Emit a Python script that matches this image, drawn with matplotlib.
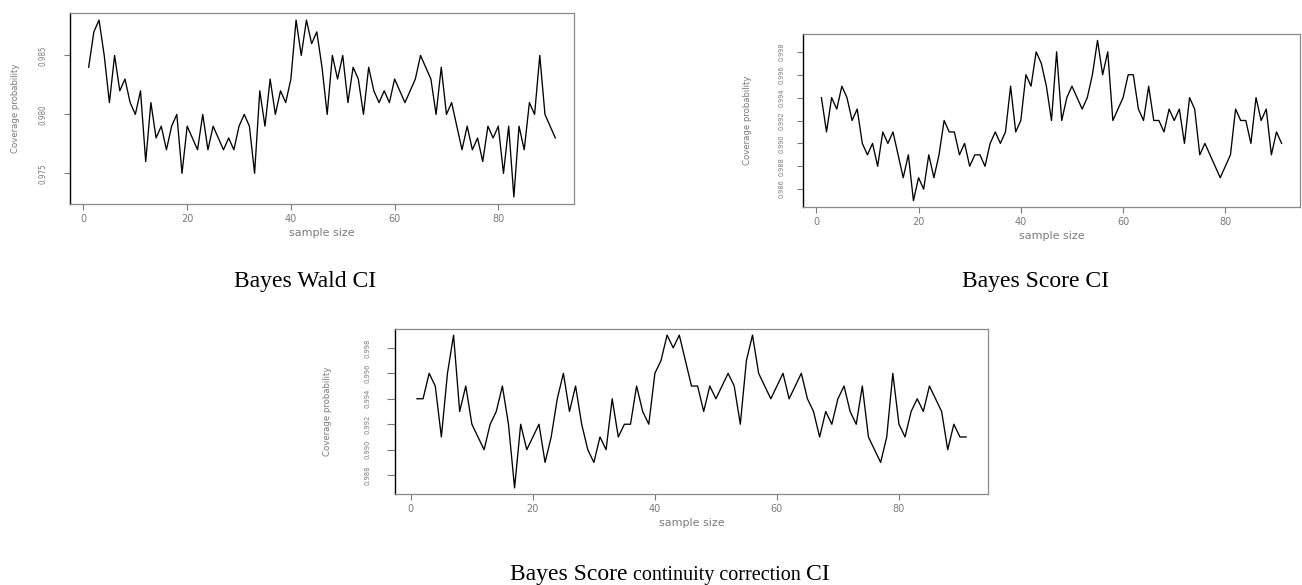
import matplotlib
matplotlib.use('Agg')
import matplotlib.pyplot as plt

# Coverage probabilities (sample size 1..91)
sample_size = list(range(1, 92))

wald_ci = [0.984, 0.987, 0.988, 0.985, 0.981, 0.985, 0.982, 0.983, 0.981, 0.980,
           0.982, 0.976, 0.981, 0.978, 0.979, 0.977, 0.979, 0.980, 0.975, 0.979,
           0.978, 0.977, 0.980, 0.977, 0.979, 0.978, 0.977, 0.978, 0.977, 0.979,
           0.980, 0.979, 0.975, 0.982, 0.979, 0.983, 0.980, 0.982, 0.981, 0.983,
           0.988, 0.985, 0.988, 0.986, 0.987, 0.984, 0.980, 0.985, 0.983, 0.985,
           0.981, 0.984, 0.983, 0.980, 0.984, 0.982, 0.981, 0.982, 0.981, 0.983,
           0.982, 0.981, 0.982, 0.983, 0.985, 0.984, 0.983, 0.980, 0.984, 0.980,
           0.981, 0.979, 0.977, 0.979, 0.977, 0.978, 0.976, 0.979, 0.978, 0.979,
           0.975, 0.979, 0.973, 0.979, 0.977, 0.981, 0.980, 0.985, 0.980, 0.979,
           0.978]

score_ci = [0.994, 0.991, 0.994, 0.993, 0.995, 0.994, 0.992, 0.993, 0.990, 0.989,
            0.990, 0.988, 0.991, 0.990, 0.991, 0.989, 0.987, 0.989, 0.985, 0.987,
            0.986, 0.989, 0.987, 0.989, 0.992, 0.991, 0.991, 0.989, 0.990, 0.988,
            0.989, 0.989, 0.988, 0.990, 0.991, 0.990, 0.991, 0.995, 0.991, 0.992,
            0.996, 0.995, 0.998, 0.997, 0.995, 0.992, 0.998, 0.992, 0.994, 0.995,
            0.994, 0.993, 0.994, 0.996, 0.999, 0.996, 0.998, 0.992, 0.993, 0.994,
            0.996, 0.996, 0.993, 0.992, 0.995, 0.992, 0.992, 0.991, 0.993, 0.992,
            0.993, 0.990, 0.994, 0.993, 0.989, 0.990, 0.989, 0.988, 0.987, 0.988,
            0.989, 0.993, 0.992, 0.992, 0.990, 0.994, 0.992, 0.993, 0.989, 0.991,
            0.990]

score_cc_ci = [0.994, 0.994, 0.996, 0.995, 0.991, 0.996, 0.999, 0.993, 0.995, 0.992,
               0.991, 0.990, 0.992, 0.993, 0.995, 0.992, 0.987, 0.992, 0.990, 0.991,
               0.992, 0.989, 0.991, 0.994, 0.996, 0.993, 0.995, 0.992, 0.990, 0.989,
               0.991, 0.990, 0.994, 0.991, 0.992, 0.992, 0.995, 0.993, 0.992, 0.996,
               0.997, 0.999, 0.998, 0.999, 0.997, 0.995, 0.995, 0.993, 0.995, 0.994,
               0.995, 0.996, 0.995, 0.992, 0.997, 0.999, 0.996, 0.995, 0.994, 0.995,
               0.996, 0.994, 0.995, 0.996, 0.994, 0.993, 0.991, 0.993, 0.992, 0.994,
               0.995, 0.993, 0.992, 0.995, 0.991, 0.990, 0.989, 0.991, 0.996, 0.992,
               0.991, 0.993, 0.994, 0.993, 0.995, 0.994, 0.993, 0.990, 0.992, 0.991,
               0.991]

x_ticks = [0, 20, 40, 60, 80]
wald_yticks = [0.975, 0.980, 0.985]
score_yticks = [0.986, 0.988, 0.990, 0.992, 0.994, 0.996, 0.998]
cc_yticks = [0.988, 0.990, 0.992, 0.994, 0.996, 0.998]

W, H = 1302, 585
fig = plt.figure(figsize=(W / 100, H / 100), dpi=100)

grey = '#7a7a7a'
ytxt = dict(family='DejaVu Sans', fontstretch='condensed', color=grey)


def panel(left, right, top, bottom, y, yticks, lab_x, ylab_x, tick_len, lab_size):
    # rectangle in pixels -> figure fraction
    ax = fig.add_axes([left / W, 1 - bottom / H, (right - left) / W, (bottom - top) / H])
    ax.plot(sample_size, y, color='black', lw=0.95)
    ax.margins(x=0.04, y=0.04)
    ax.set_xticks(x_ticks)
    ax.set_yticks(yticks)
    ax.set_yticklabels([f'{v:.3f}' for v in yticks], rotation=90, va='center',
                       fontsize=lab_size, **ytxt)
    ax.set_xticklabels([str(v) for v in x_ticks], fontsize=7, color=grey)
    # pad so the label centres land where the reference has them (px -> pt)
    pad = (left - tick_len - lab_x - 4) * 0.72
    ax.tick_params(axis='y', length=tick_len * 0.72, width=0.8, color=grey, pad=pad)
    ax.tick_params(axis='x', length=4, width=0.8, color=grey, pad=3)
    ax.set_xlabel('sample size', fontsize=8, color=grey, labelpad=3)
    ax.set_ylabel('Coverage probability', fontsize=6.8, va='center', **ytxt)
    ax.yaxis.set_label_coords((ylab_x - left) / (right - left), 0.5)
    for s in ['top', 'right', 'bottom']:
        ax.spines[s].set_color('#8a8a8a')
        ax.spines[s].set_linewidth(0.9)
    ax.spines['left'].set_color('black')
    ax.spines['left'].set_linewidth(1.0)
    return ax


panel(70, 574, 13, 204, wald_ci, wald_yticks, 43, 16, 6, 5.8)
panel(803, 1300, 34, 207, score_ci, score_yticks, 781, 747, 6, 5.2)
panel(395, 988, 329, 494, score_cc_ci, cc_yticks, 366, 328, 8, 5.4)

serif = 'Liberation Serif'
fig.text(305 / W, 1 - 287 / H, 'Bayes Wald CI', family=serif, fontsize=17,
         ha='center', va='baseline')
fig.text(1036 / W, 1 - 287 / H, 'Bayes Score CI', family=serif, fontsize=17,
         ha='center', va='baseline')

# bottom caption mixes two font sizes
pieces = [('Bayes Score', 17), ('continuity correction', 14.5), ('CI', 17)]
renderer = fig.canvas.get_renderer()
texts = [fig.text(0, 1 - 580 / H, s, family=serif, fontsize=fs, va='baseline')
         for s, fs in pieces]
widths = [t.get_window_extent(renderer).width for t in texts]
gap = 5
x0 = 670 - (sum(widths) + gap * (len(widths) - 1)) / 2
for t, w in zip(texts, widths):
    t.set_x(x0 / W)
    x0 += w + gap

fig.savefig('out.png', dpi=100)
